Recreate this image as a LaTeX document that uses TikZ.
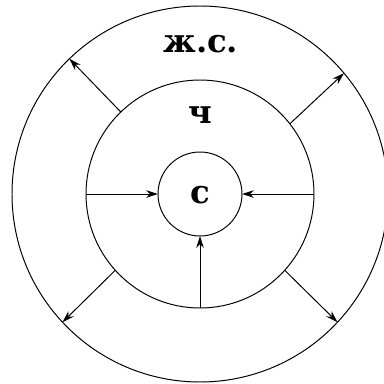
\documentclass[tikz,border=0pt]{standalone}
\usepackage{fontspec}
\setmainfont{DejaVu Serif}
\usetikzlibrary{arrows.meta}

\begin{document}
\begin{tikzpicture}[line width=0.7pt,
  ring/.style={draw, circle, inner sep=0pt, outer sep=0pt},
  flow/.style={-{Stealth[length=3mm, width=1.9mm]}},
  lbl/.style={font=\fontsize{23}{25}\selectfont\bfseries}]
  \useasboundingbox (0,0) rectangle (9.6,9.6);
  % three shells round one centre, radii 4.7, 2.85, 1.05
  \node[ring, minimum size=9.4cm] (crust) at (5,4.75) {};
  \node[ring, minimum size=5.7cm] (mantle) at (5,4.75) {};
  \node[ring, minimum size=2.1cm] (core) at (5,4.75) {};
  % labels
  \node[lbl] (crustlbl) at (5.02,8.5) {ж.с.};
  \node[lbl] (mantlelbl) at (5.02,6.72) {ч};
  \node[lbl] (corelbl) at (5,4.72) {с};
  % inward arrows
  \draw[flow] (mantle.west) -- (core.west);
  \draw[flow] (mantle.east) -- (core.east);
  \draw[flow] (mantle.south) -- (core.south);
  % outward arrows
  \draw[flow] (mantle.134) -- (crust.134);
  \draw[flow] (mantle.38) -- (crust.40);
  \draw[flow] (mantle.222) -- (crust.223);
  \draw[flow] (mantle.-42) -- (crust.-43);
\end{tikzpicture}
\end{document}
